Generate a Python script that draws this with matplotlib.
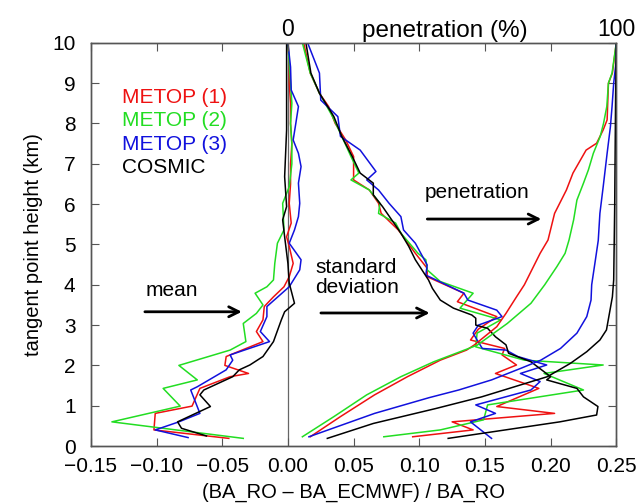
import numpy as np
import matplotlib
matplotlib.use("Agg")
from matplotlib import pyplot as plt
from matplotlib.ticker import FuncFormatter, MultipleLocator

plt.rcParams['font.family'] = ['Liberation Sans', 'DejaVu Sans']

RED = '#ee1111'
GREEN = '#22dd22'
BLUE = '#1111dd'
BLACK = '#000000'

# mean of (BA_RO - BA_ECMWF)/BA_RO : heights (km) and values
mean_h_m1 = [0.19, 0.40, 0.81, 0.99, 1.43, 1.72, 1.80, 2.00, 2.22, 2.59, 2.84, 3.13, 3.46, 3.70, 3.95,
             4.20, 4.53, 4.95, 5.19, 5.53, 6.02, 6.50, 7.00, 7.50, 8.00, 8.50, 9.00, 9.50, 10.0]
mean_m1 = [-0.045, -0.102, -0.101, -0.073, -0.067, -0.044, -0.030, -0.048, -0.047, -0.019, -0.024, -0.019,
           -0.018, -0.011, -0.003, 0.001, 0.004, 0.001, -0.001, 0.0025, 0.001, 0.002, 0.002, 0.003, 0.002,
           0.002, 0.001, 0.001, 0.0]

mean_h_m2 = [0.19, 0.60, 0.99, 1.43, 1.64, 2.00, 2.38, 2.59, 3.04, 3.29, 3.50, 3.79, 3.95, 4.12, 4.53,
             5.03, 5.36, 6.02, 6.43, 7.00, 7.50, 8.00, 8.50, 9.00, 9.50, 10.0]
mean_m2 = [-0.034, -0.134, -0.082, -0.095, -0.069, -0.083, -0.044, -0.032, -0.034, -0.024, -0.019, -0.025,
           -0.016, -0.011, -0.010, -0.008, -0.003, -0.004, 0.001, 0.003, 0.003, 0.002, 0.003, 0.002, 0.001, 0.0]

mean_h_m3 = [0.21, 0.40, 0.60, 0.81, 1.39, 1.47, 1.89, 2.13, 2.26, 2.59, 2.84, 3.21, 3.46, 3.95, 4.37,
             4.62, 5.03, 5.36, 5.69, 6.02, 6.52, 6.93, 7.26, 7.59, 8.00, 8.42, 8.83, 9.40, 10.0]
mean_m3 = [-0.076, -0.101, -0.083, -0.067, -0.074, -0.069, -0.047, -0.042, -0.044, -0.014, -0.021, -0.016,
           -0.016, 0.001, 0.009, 0.010, 0.001, 0.005, 0.008, 0.009, 0.008, 0.010, 0.008, 0.004, 0.006,
           0.008, 0.0025, 0.002, 0.0]

mean_h_cos = [0.25, 0.44, 0.60, 0.98, 1.27, 1.39, 1.72, 1.89, 2.01, 2.22, 2.59, 3.13, 3.33, 3.54, 4.04,
              4.53, 5.19, 5.61, 5.94, 6.68, 7.84, 9.08, 10.0]
mean_cos = [-0.062, -0.081, -0.084, -0.059, -0.067, -0.064, -0.042, -0.037, -0.029, -0.019, -0.011, -0.005,
            -0.0025, 0.005, 0.001, 0.0, -0.0025, -0.004, -0.001, -0.0025, -0.001, -0.001, -0.001]

# standard deviation
std_h_m1 = [0.23, 0.40, 0.60, 0.81, 0.98, 1.43, 1.80, 2.01, 2.26, 2.42, 2.63, 2.90, 3.21, 3.58, 3.79,
            4.20, 4.41, 4.78, 5.36, 5.77, 6.02, 6.35, 6.60, 7.18, 7.59, 8.00, 8.42, 8.75, 9.25, 10.0]
std_m1 = [0.095, 0.141, 0.125, 0.203, 0.159, 0.191, 0.158, 0.174, 0.163, 0.165, 0.139, 0.145, 0.159, 0.129,
          0.134, 0.106, 0.106, 0.097, 0.084, 0.071, 0.069, 0.062, 0.050, 0.050, 0.044, 0.036, 0.031, 0.024,
          0.017, 0.012]

std_h_m2 = [0.23, 0.40, 0.65, 1.02, 1.39, 1.80, 2.01, 2.13, 2.46, 2.80, 3.13, 3.42, 3.79, 4.08, 4.37,
            4.62, 4.78, 5.28, 5.53, 5.77, 6.02, 6.35, 6.60, 6.77, 7.18, 7.68, 8.17, 8.75, 9.25, 10.0]
std_m2 = [0.073, 0.116, 0.149, 0.152, 0.225, 0.195, 0.240, 0.180, 0.143, 0.144, 0.162, 0.131, 0.141, 0.116,
          0.106, 0.105, 0.099, 0.086, 0.082, 0.069, 0.070, 0.062, 0.048, 0.054, 0.048, 0.041, 0.034, 0.024,
          0.017, 0.011]

std_h_m3 = [0.19, 0.60, 0.81, 1.02, 1.39, 1.60, 1.80, 2.01, 2.22, 2.38, 2.42, 2.63, 2.80, 3.00, 3.21,
            3.37, 3.62, 3.79, 4.24, 4.49, 5.03, 5.36, 5.69, 6.02, 6.35, 6.60, 6.81, 7.34, 7.68, 8.17,
            8.58, 9.25, 10.0]
std_m3 = [0.155, 0.139, 0.158, 0.143, 0.185, 0.192, 0.177, 0.197, 0.175, 0.166, 0.148, 0.144, 0.141, 0.145,
          0.163, 0.159, 0.137, 0.134, 0.105, 0.106, 0.097, 0.088, 0.086, 0.077, 0.069, 0.060, 0.067, 0.055,
          0.040, 0.038, 0.025, 0.024, 0.015]

std_h_cos = [0.19, 0.60, 0.77, 0.98, 1.22, 1.43, 1.64, 1.72, 2.09, 2.30, 2.51, 2.71, 2.92, 3.00, 3.17,
             3.25, 3.42, 3.62, 3.91, 4.12, 4.37, 4.62, 4.95, 5.28, 5.61, 5.94, 6.23, 6.52, 6.77, 7.18,
             7.68, 8.17, 8.75, 9.25, 10.0]
std_cos = [0.122, 0.207, 0.235, 0.236, 0.225, 0.220, 0.197, 0.200, 0.185, 0.168, 0.166, 0.158, 0.152, 0.143,
           0.143, 0.140, 0.126, 0.116, 0.110, 0.107, 0.102, 0.097, 0.092, 0.086, 0.079, 0.072, 0.065, 0.065,
           0.055, 0.049, 0.041, 0.035, 0.024, 0.0175, 0.0137]

# penetration (%)
pen_h_m1 = [0.23, 0.73, 1.27, 1.72, 2.13, 2.38, 2.51, 2.96, 3.29, 3.70, 4.00, 4.78, 5.11, 5.77, 6.35,
            6.77, 7.34, 7.51, 7.84, 8.09, 9.00, 9.25, 10.0]
pen_m1 = [6.8, 16, 26.4, 36.4, 46.4, 54.4, 56.8, 63.6, 66.4, 69.6, 72, 76.8, 79.2, 81.2, 84.8, 86.8, 90.8,
          94, 96, 97.2, 97.6, 98.8, 100]

pen_h_m2 = [0.23, 0.73, 1.27, 1.72, 2.09, 2.50, 3.04, 3.54, 4.00, 4.45, 4.78, 5.11, 5.61, 6.10, 6.52,
            6.85, 7.26, 7.68, 8.00, 8.42, 9.00, 9.25, 9.83, 10.0]
pen_m2 = [4.4, 14, 24, 34.4, 44.4, 57.6, 66.8, 74, 78.2, 81.9, 84.4, 85.6, 87, 88, 90, 91.5, 93, 95.1, 96.1,
          97.1, 97.6, 98.7, 99.7, 100]

pen_h_m3 = [0.23, 0.81, 1.20, 1.39, 1.64, 1.93, 2.13, 2.42, 2.80, 3.21, 3.62, 4.00, 4.60, 5.10, 5.77,
            6.43, 7.26, 7.92, 8.42, 9.00, 9.58, 10.0]
pen_m3 = [6.4, 26.4, 43, 52, 62, 71, 77, 83, 88, 91, 92.3, 92.5, 93.6, 94.5, 95, 96, 97.2, 98.2, 98.7, 99.2,
          100, 100]

pen_h_cos = [0.19, 0.56, 0.93, 1.22, 1.47, 1.72, 2.05, 2.34, 2.63, 2.88, 3.70, 4.12, 5.90, 8.80, 10.0]
pen_cos = [12, 26, 45, 59, 69, 79, 86, 91, 95, 97, 98.8, 99.2, 99.5, 99.8, 100]

names = ['METOP (1)', 'METOP (2)', 'METOP (3)', 'COSMIC']
colors = [RED, GREEN, BLUE, BLACK]

fig = plt.figure(figsize=(6.4, 5.04), dpi=100)
ax = fig.add_axes([0.142, 0.115, 0.821, 0.8])
ax.set_xlim(-0.15, 0.25)
ax.set_ylim(0, 10)
ax.axvline(0, color='#666666', lw=0.9, zorder=1)

means = [(mean_m1, mean_h_m1), (mean_m2, mean_h_m2), (mean_m3, mean_h_m3), (mean_cos, mean_h_cos)]
stds = [(std_m1, std_h_m1), (std_m2, std_h_m2), (std_m3, std_h_m3), (std_cos, std_h_cos)]
pens = [(pen_m1, pen_h_m1), (pen_m2, pen_h_m2), (pen_m3, pen_h_m3), (pen_cos, pen_h_cos)]

LW = 1.1
for (x, h), c in zip(means, colors):
    ax.plot(x, h, color=c, lw=LW)
for (x, h), c in zip(stds, colors):
    ax.plot(x, h, color=c, lw=LW)

# top axis: penetration, 0 % at x=0 and 100 % at x=0.25
ax2 = ax.twiny()
ax2.set_xlim(-60, 100)
for (p, h), c in zip(pens, colors):
    ax2.plot(p, h, color=c, lw=LW)

ax.xaxis.set_major_locator(MultipleLocator(0.05))
ax.yaxis.set_major_locator(MultipleLocator(1))
ax.xaxis.set_major_formatter(FuncFormatter(lambda v, p: f"{v:.2f}".replace('-', '\u2212')))
ax.tick_params(direction='in', length=6, width=0.8, color='#555555', labelsize=15,
               top=False, right=True)
ax.tick_params(axis='x', pad=8)
ax.tick_params(axis='y', pad=11)
ax2.xaxis.set_major_locator(MultipleLocator(20))
ax2.xaxis.set_major_formatter(FuncFormatter(lambda v, p: f"{v:.0f}" if v in (0, 100) else ""))
ax2.tick_params(direction='in', length=6, width=0.8, color='#555555', labelsize=16.5, pad=1.5)
for a in (ax, ax2):
    for s in a.spines.values():
        s.set_color('#555555')
        s.set_linewidth(1.0)

ax.set_xlabel('(BA_RO \u2013 BA_ECMWF) / BA_RO', fontsize=14.5, labelpad=5)
ax.set_ylabel('tangent point height (km)', fontsize=14.5, labelpad=7)
ax2.annotate('penetration (%)', xy=(47.7, 1.0), xycoords=('data', 'axes fraction'),
             xytext=(0, 4), textcoords='offset points', ha='center', va='baseline', fontsize=17.5)

# coloured series names
for i, (n, c) in enumerate(zip(names, colors)):
    ax.text(-0.126, 8.64 - i * 0.575, n, color=c, fontsize=15, va='center', ha='left')

arrow = dict(arrowstyle='->', lw=2, color='black', mutation_scale=18)
ax.text(-0.108, 3.87, 'mean', fontsize=15, va='center', ha='left')
ax.annotate('', xy=(-0.033, 3.33), xytext=(-0.111, 3.33), arrowprops=arrow)
ax.text(0.021, 4.18, 'standard\ndeviation', fontsize=15, va='center', ha='left', linespacing=1.1)
ax.annotate('', xy=(0.110, 3.3), xytext=(0.023, 3.3), arrowprops=arrow)
ax.text(0.104, 6.3, 'penetration', fontsize=15, va='center', ha='left')
ax.annotate('', xy=(0.195, 5.63), xytext=(0.104, 5.63), arrowprops=arrow)

fig.savefig('out.png', dpi=100)
